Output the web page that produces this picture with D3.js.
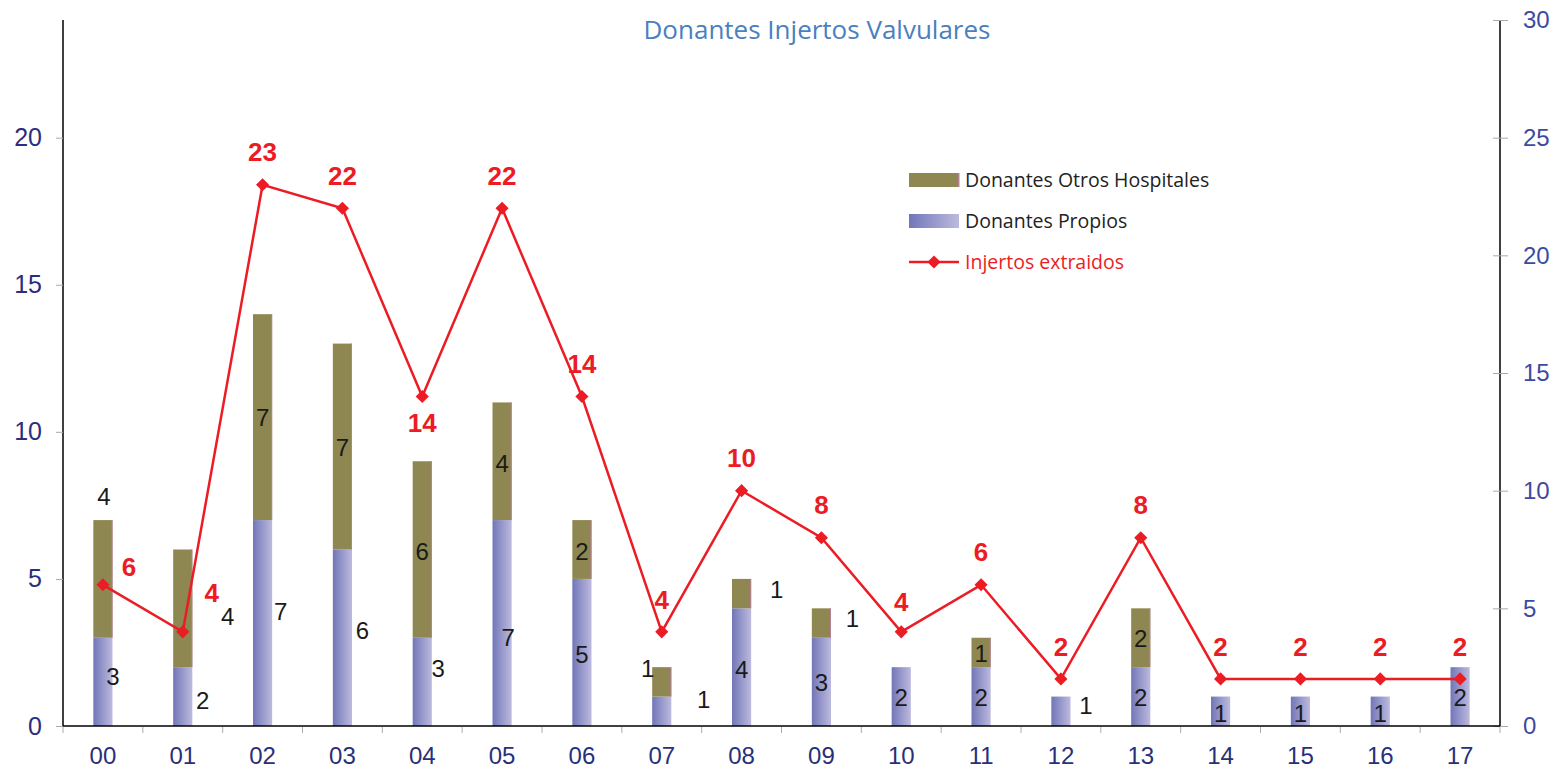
<!DOCTYPE html>
<html>
<head>
<meta charset="utf-8">
<script src="https://cdn.jsdelivr.net/npm/d3@7"></script>
<style>
  body { margin: 0; background: #fff; }
  svg { display: block; }
</style>
</head>
<body>
<div id="chart"></div>
<script>
// --- DATA
var years = ['00', '01', '02', '03', '04', '05', '06', '07', '08', '09', '10', '11', '12', '13', '14', '15', '16', '17'];
var propios = [3, 2, 7, 6, 3, 7, 5, 1, 4, 3, 2, 2, 1, 2, 1, 1, 1, 2];
var otros = [4, 4, 7, 7, 6, 4, 2, 1, 1, 1, 0, 1, 0, 2, 0, 0, 0, 0];
var injertos = [6, 4, 23, 22, 14, 22, 14, 4, 10, 8, 4, 6, 2, 8, 2, 2, 2, 2];
var leftTicks = [0, 5, 10, 15, 20];
var rightTicks = [0, 5, 10, 15, 20, 25, 30];

// label nudges (px) copied from the way the original places its labels
var propiosNudge = [[10, -5], [20, 4], [18, -11], [20, -7], [16, -13], [6, 15], [0, 2], [42, -12], [0, 2],
  [0, 1], [0, 1], [0, 1], [25, -6], [0, 1], [0, 2], [0, 2], [0, 2], [0, 1]];
var otrosNudge = [[1, -82], [45, 8], [0, 0], [0, 1], [0, 2], [0, 2], [0, 2], [-14, -13], [35, -4],
  [31, -4], [0, 0], [0, 1], [0, 0], [0, 1], [0, 0], [0, 0], [0, 0], [0, 0]];
var injertosNudge = [[26, -18], [29, -39], [0, -33], [0, -32], [0, 26], [0, -32], [0, -33], [0, -32], [0, -33],
  [0, -33], [0, -30], [0, -33], [0, -32], [0, -33], [0, -32], [0, -32], [0, -32], [0, -32]];

var W = 1558, H = 772;
var margin = { top: 20, right: 58, bottom: 46, left: 63 };
var width = W - margin.left - margin.right;
var height = H - margin.top - margin.bottom;

var svg = d3.select('#chart').append('svg')
  .attr('width', W)
  .attr('height', H)
  .style('font-family', '"Liberation Sans", Arial, sans-serif');

svg.append('rect').attr('width', W).attr('height', H).attr('fill', '#fff');

var defs = svg.append('defs');
var grad = defs.append('linearGradient').attr('id', 'propiosGrad')
  .attr('x1', '0%').attr('x2', '100%').attr('y1', '0%').attr('y2', '0%');
grad.append('stop').attr('offset', '0%').attr('stop-color', '#7176b8');
grad.append('stop').attr('offset', '100%').attr('stop-color', '#bdbade');

var g = svg.append('g')
  .attr('transform', 'translate(' + margin.left + ',' + margin.top + ')');

//--- SCALES
var x = d3.scaleBand().domain(years).range([0, width]).padding(0);
var yLeft = d3.scaleLinear().domain([0, 24]).range([height, 0]);
var yRight = d3.scaleLinear().domain([0, 30]).range([height, 0]);
var barW = x.bandwidth() * 0.24;

function cx(i) { return x(years[i]) + x.bandwidth() / 2; }

var otrosData = otros.map(function(d, i) { return { v: d, i: i }; })
  .filter(function(d) { return d.v > 0; });

//--- BARS: PROPIOS
g.selectAll('.bar-propios')
  .data(propios)
  .enter().append('rect')
  .attr('class', 'bar-propios')
  .attr('x', function(d, i) { return cx(i) - barW / 2; })
  .attr('y', function(d) { return yLeft(d); })
  .attr('width', barW)
  .attr('height', function(d) { return yLeft(0) - yLeft(d); })
  .attr('fill', 'url(#propiosGrad)');

//--- BARS: OTROS
g.selectAll('.bar-otros')
  .data(otrosData)
  .enter().append('rect')
  .attr('class', 'bar-otros')
  .attr('x', function(d) { return cx(d.i) - barW / 2; })
  .attr('y', function(d) { return yLeft(propios[d.i] + d.v); })
  .attr('width', barW)
  .attr('height', function(d) { return yLeft(propios[d.i]) - yLeft(propios[d.i] + d.v); })
  .attr('fill', '#8f8751');

g.selectAll('.bar-otros-edge')
  .data(otrosData)
  .enter().append('line')
  .attr('x1', function(d) { return cx(d.i) + barW / 2 - 0.5; })
  .attr('x2', function(d) { return cx(d.i) + barW / 2 - 0.5; })
  .attr('y1', function(d) { return yLeft(propios[d.i] + d.v); })
  .attr('y2', function(d) { return yLeft(propios[d.i]); })
  .attr('stroke', '#b77f98')
  .attr('stroke-width', 1);

//--- AXES
var axisLeft = g.append('g')
  .call(d3.axisLeft(yLeft).tickValues(leftTicks).tickSize(7).tickPadding(14));
axisLeft.select('.domain').attr('stroke', '#000').attr('stroke-width', 1.5).attr('d', 'M0,0V' + height);
axisLeft.selectAll('.tick line').attr('stroke', '#aaa');
axisLeft.selectAll('.tick text').attr('fill', '#2b2e7c').style('font-size', '25px')
  .attr('font-family', '"Liberation Sans", Arial, sans-serif');

var axisRight = g.append('g')
  .attr('transform', 'translate(' + width + ',0)')
  .call(d3.axisRight(yRight).tickValues(rightTicks).tickSize(8).tickPadding(15));
axisRight.select('.domain').attr('stroke', '#000').attr('stroke-width', 1.5).attr('d', 'M0,0V' + height);
axisRight.selectAll('.tick line').attr('stroke', '#aaa').attr('x1', -7);
axisRight.selectAll('.tick text').attr('fill', '#3d4a9f').style('font-size', '24px')
  .attr('font-family', '"Liberation Sans", Arial, sans-serif');

var axisBottom = g.append('g')
  .attr('transform', 'translate(0,' + height + ')')
  .call(d3.axisBottom(x).tickSize(0).tickPadding(21));
axisBottom.select('.domain').attr('stroke', '#000').attr('stroke-width', 1.5).attr('d', 'M0,0H' + width);
axisBottom.selectAll('.tick text').attr('fill', '#283079').style('font-size', '24px')
  .attr('font-family', '"Liberation Sans", Arial, sans-serif');

// category boundary ticks
g.selectAll('.bound')
  .data(d3.range(years.length + 1))
  .enter().append('line')
  .attr('x1', function(d) { return d * x.step(); })
  .attr('x2', function(d) { return d * x.step(); })
  .attr('y1', height + 1)
  .attr('y2', height + 7)
  .attr('stroke', '#aaa');

//--- LINE INJERTOS
var lineFunc = d3.line()
  .x(function(d, i) { return cx(i); })
  .y(function(d) { return yRight(d); });

g.append('path')
  .datum(injertos)
  .attr('d', lineFunc)
  .attr('fill', 'none')
  .attr('stroke', '#ec1c24')
  .attr('stroke-width', 2.5);

var diamond = d3.symbol().type(d3.symbolDiamond2).size(110);

g.selectAll('.marker')
  .data(injertos)
  .enter().append('path')
  .attr('d', diamond)
  .attr('transform', function(d, i) { return 'translate(' + cx(i) + ',' + yRight(d) + ')'; })
  .attr('fill', '#ec1c24');

//--- LABELS
g.selectAll('.lab-propios')
  .data(propios)
  .enter().append('text')
  .attr('x', function(d, i) { return cx(i) + propiosNudge[i][0]; })
  .attr('y', function(d, i) { return yLeft(d / 2) + propiosNudge[i][1]; })
  .attr('dy', '0.35em')
  .attr('text-anchor', 'middle')
  .attr('fill', '#1a1a1a')
  .style('font-size', '24px')
  .text(function(d) { return d; });

g.selectAll('.lab-otros')
  .data(otrosData)
  .enter().append('text')
  .attr('x', function(d) { return cx(d.i) + otrosNudge[d.i][0]; })
  .attr('y', function(d) { return yLeft(propios[d.i] + d.v / 2) + otrosNudge[d.i][1]; })
  .attr('dy', '0.35em')
  .attr('text-anchor', 'middle')
  .attr('fill', '#1a1a1a')
  .style('font-size', '24px')
  .text(function(d) { return d.v; });

g.selectAll('.lab-injertos')
  .data(injertos)
  .enter().append('text')
  .attr('x', function(d, i) { return cx(i) + injertosNudge[i][0]; })
  .attr('y', function(d, i) { return yRight(d) + injertosNudge[i][1]; })
  .attr('dy', '0.35em')
  .attr('text-anchor', 'middle')
  .attr('fill', '#ec1c24')
  .style('font-size', '26px')
  .style('font-weight', 'bold')
  .text(function(d) { return d; });

//--- TITLE
svg.append('text')
  .attr('x', 817)
  .attr('y', 39)
  .attr('text-anchor', 'middle')
  .attr('fill', '#4a7fc0')
  .style('font-family', '"Open Sans", "Noto Sans", sans-serif')
  .style('font-size', '26px')
  .text('Donantes Injertos Valvulares');

//--- LEGEND
var legend = svg.append('g').attr('transform', 'translate(909,0)')
  .style('font-family', '"Open Sans", "Noto Sans", sans-serif')
  .style('font-size', '19.5px');

legend.append('rect').attr('x', 0).attr('y', 173).attr('width', 50).attr('height', 14).attr('fill', '#8f8751');
legend.append('rect').attr('x', 49).attr('y', 173).attr('width', 1.5).attr('height', 14).attr('fill', '#b77f98');
legend.append('text').attr('x', 56).attr('y', 180).attr('dy', '0.35em').attr('fill', '#222')
  .text('Donantes Otros Hospitales');

legend.append('rect').attr('x', 0).attr('y', 214).attr('width', 50).attr('height', 14).attr('fill', 'url(#propiosGrad)');
legend.append('text').attr('x', 56).attr('y', 221).attr('dy', '0.35em').attr('fill', '#222')
  .text('Donantes Propios');

legend.append('line').attr('x1', 0).attr('x2', 50).attr('y1', 262).attr('y2', 262)
  .attr('stroke', '#ec1c24').attr('stroke-width', 2.5);
legend.append('path').attr('d', diamond).attr('transform', 'translate(25,262)').attr('fill', '#ec1c24');
legend.append('text').attr('x', 56).attr('y', 262).attr('dy', '0.35em').attr('fill', '#ec1c24')
  .text('Injertos extraidos');
</script>
</body>
</html>
